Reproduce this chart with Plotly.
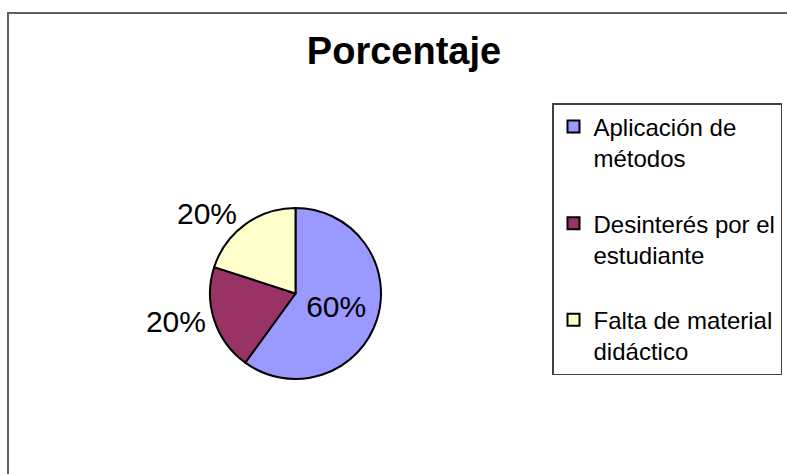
import plotly.graph_objects as go

categories = ["Aplicación de<br>métodos<br> ", "Desinterés por el<br>estudiante<br> ", "Falta de material<br>didáctico"]
values = [60, 20, 20]
colors = ["#9999FF", "#993366", "#FFFFCC"]
text_positions = ["inside", "outside", "outside"]

W, H = 787, 474
cx, cy, r = 295.5, 293.5, 85.5

fig = go.Figure(go.Pie(
    labels=categories,
    values=values,
    sort=False,
    direction="clockwise",
    rotation=0,
    marker=dict(colors=colors, line=dict(color="#000000", width=2)),
    textinfo="percent",
    texttemplate="%{percent:.0%}",
    textposition=text_positions,
    textfont=dict(family="Arial, Liberation Sans", size=30, color="#000000"),
    insidetextfont=dict(family="Arial, Liberation Sans", size=30, color="#000000"),
    outsidetextfont=dict(family="Arial, Liberation Sans", size=30, color="#000000"),
    domain=dict(x=[(cx - r) / W, (cx + r) / W], y=[1 - (cy + r) / H, 1 - (cy - r) / H]),
    hoverinfo="label+percent",
))

fig.update_layout(
    width=W, height=H,
    margin=dict(l=0, r=0, t=0, b=0),
    paper_bgcolor="white",
    plot_bgcolor="white",
    font=dict(family="Arial, Liberation Sans", color="#000000"),
    title=dict(text="<b>Porcentaje</b>", x=404 / W, xanchor="center", y=1 - 51 / H, yanchor="middle",
               font=dict(family="Arial, Liberation Sans", size=38, color="#000000")),
    showlegend=True,
    legend=dict(
        x=552 / W, xanchor="left", y=1 - 103 / H, yanchor="top",
        font=dict(family="Arial, Liberation Sans", size=24, color="#000000"),
        bordercolor="#404040", borderwidth=1.5, bgcolor="white",
        valign="top", itemclick=False,
    ),
    shapes=[dict(type="rect", xref="paper", yref="paper",
                 x0=8 / W, y0=-0.1, x1=1.1, y1=1 - 13 / H,
                 line=dict(color="#606060", width=2), layer="below")],
)

fig.write_html(
    "out.html",
    config={"displayModeBar": False},
    post_script="document.body.style.margin='0';document.body.style.padding='0';document.body.style.overflow='hidden';",
)
